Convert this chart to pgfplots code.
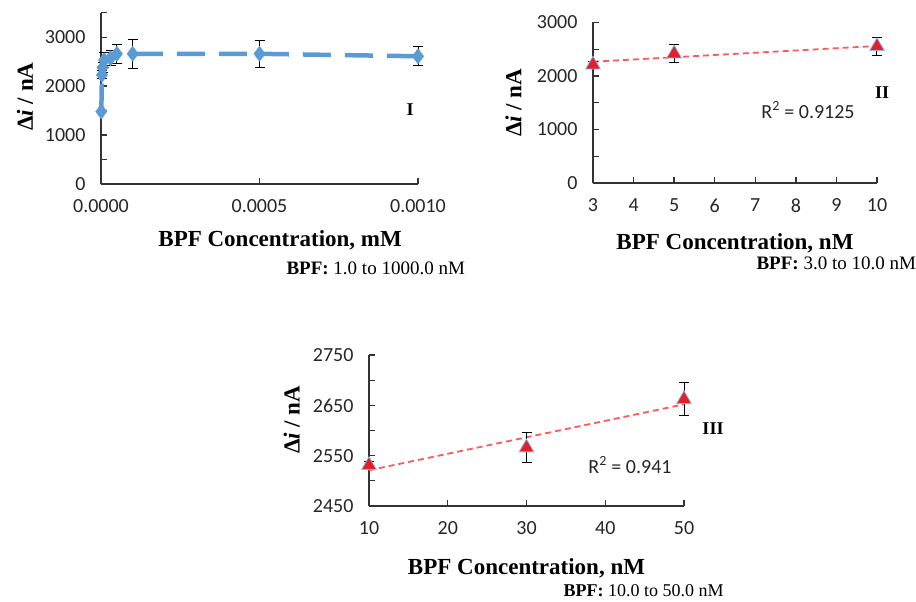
\documentclass[border=0pt]{standalone}
\usepackage{pgfplots}
\pgfplotsset{compat=1.18}
\usepackage{fontspec}
\setmainfont{Liberation Serif}
\newfontfamily\calfont{Carlito}
\definecolor{xblue}{HTML}{5B9BD5}
\definecolor{xred}{HTML}{E41E2B}
\definecolor{trend}{HTML}{FF5A5A}

\pgfplotsset{
  panel/.style={
    scale only axis,
    axis lines*=left,
    axis line style={black!80, line width=1.3pt},
    tick style={black!80, line width=1.3pt},
    tick align=inside,
    major tick length=6pt,
    tick label style={font=\calfont\fontsize{20}{20}\selectfont, text=black!85},
    xticklabel style={yshift=-12pt},
    yticklabel style={xshift=-12pt},
    /pgf/number format/assume math mode=true,
    label style={font=\bfseries\fontsize{23}{23}\selectfont},
    ylabel={Δ\textit{i} / nA},
    xlabel style={anchor=center},
    ylabel style={anchor=center},
    clip=false,
  },
  ebar/.style={black, only marks, mark=none, forget plot,
    error bars/.cd, y dir=both, y explicit,
    error mark=-,
    error bar style={black, line width=1pt},
    error mark options={rotate=90, black, line width=1pt, mark size=5pt}},
  tri/.style={only marks, mark=triangle*, mark size=8.5pt,
    mark options={fill=xred, draw=xblue!70, line width=0.8pt}},
  trendline/.style={trend, line width=1.8pt, dash pattern=on 6pt off 4pt, mark=none},
}

\begin{document}
\begin{tikzpicture}
\path[use as bounding box] (0,0) rectangle (916pt,-602pt);

% ---- panel I ----
\begin{axis}[panel,
  at={(101pt,-184pt)}, anchor=south west,
  width=317pt, height=171.3pt,
  xmin=0, xmax=0.001, ymin=0, ymax=3500,
  xtick={0,0.0005,0.001}, scaled x ticks=false,
  xticklabel style={/pgf/number format/.cd, fixed, fixed zerofill, precision=4},
  ytick={0,500,...,3500}, yticklabels={0,,1000,,2000,,3000,},
  xlabel={BPF Concentration, mM},
  xlabel style={at={(axis description cs:0.565,-0.33)}},
  ylabel style={at={(axis description cs:-0.24,0.51)}},
]
\addplot[ebar] coordinates {
  (0.000001,1480) +- (0,0)
  (0.000003,2230) +- (0,80)
  (0.000005,2380) +- (0,100)
  (0.00001,2530) +- (0,150)
  (0.00003,2570) +- (0,150)
  (0.00005,2660) +- (0,190)
  (0.0001,2660) +- (0,300)
  (0.0005,2660) +- (0,280)
  (0.001,2610) +- (0,190)
};
\addplot[xblue, line width=4.5pt, dash pattern=on 28pt off 14pt,
  mark=diamond*, mark size=7.5pt, mark options={solid, fill=xblue, draw=xblue, line width=0.5pt}]
  coordinates {
  (0.000001,1480)
  (0.000003,2230)
  (0.000005,2380)
  (0.00001,2530)
  (0.00003,2570)
  (0.00005,2660)
  (0.0001,2660)
  (0.0005,2660)
  (0.001,2610)
};
\end{axis}

% ---- panel II ----
\begin{axis}[panel,
  at={(593pt,-183pt)}, anchor=south west,
  width=284pt, height=160.6pt,
  xmin=3, xmax=10, ymin=0, ymax=3000,
  xtick={3,...,10},
  ytick={0,500,...,3000}, yticklabels={0,,1000,,2000,,3000},
  xlabel={BPF Concentration, nM},
  xlabel style={at={(axis description cs:0.5,-0.375)}},
  ylabel style={at={(axis description cs:-0.28,0.5)}},
]
\addplot[trendline] coordinates {(3,2265) (10,2560)};
\addplot[ebar] coordinates {
  (3,2210) +- (0,60)
  (5,2415) +- (0,165)
  (10,2552) +- (0,165)
};
\addplot[tri] coordinates {(3,2210) (5,2415) (10,2552)};
\end{axis}

% ---- panel III ----
\begin{axis}[panel,
  at={(369pt,-506pt)}, anchor=south west,
  width=315pt, height=151pt,
  xmin=10, xmax=50, ymin=2450, ymax=2750,
  xtick={10,20,...,50},
  ytick={2450,2500,...,2750}, yticklabels={2450,,2550,,2650,,2750},
  xlabel={BPF Concentration, nM},
  xlabel style={at={(axis description cs:0.5,-0.41)}},
  ylabel style={at={(axis description cs:-0.245,0.57)}},
]
\addplot[trendline] coordinates {(10,2521) (50,2652)};
\addplot[ebar] coordinates {
  (10,2531) +- (0,8)
  (30,2566) +- (0,30)
  (50,2662) +- (0,33)
};
\addplot[tri] coordinates {(10,2531) (30,2566) (50,2662)};
\end{axis}

% ---- annotations ----
\node[font=\bfseries\fontsize{18}{18}\selectfont] at (410pt,-110pt) {I};
\node[font=\bfseries\fontsize{18}{18}\selectfont] at (882pt,-93pt) {II};
\node[font=\bfseries\fontsize{18}{18}\selectfont] at (713pt,-429pt) {III};
\node[font=\calfont\fontsize{20}{20}\selectfont, text=black!85] at (808pt,-110pt) {R\textsuperscript{2} = 0.9125};
\node[font=\calfont\fontsize{20}{20}\selectfont, text=black!85] at (630pt,-465pt) {R\textsuperscript{2} = 0.941};
\node[anchor=west, font=\fontsize{19}{19}\selectfont] at (283pt,-268pt) {\textbf{BPF:} 1.0 to 1000.0 nM};
\node[anchor=west, font=\fontsize{19}{19}\selectfont] at (753pt,-263pt) {\textbf{BPF:} 3.0 to 10.0 nM};
\node[anchor=west, font=\fontsize{18}{18}\selectfont] at (560pt,-591pt) {\textbf{BPF:} 10.0 to 50.0 nM};
\end{tikzpicture}
\end{document}
